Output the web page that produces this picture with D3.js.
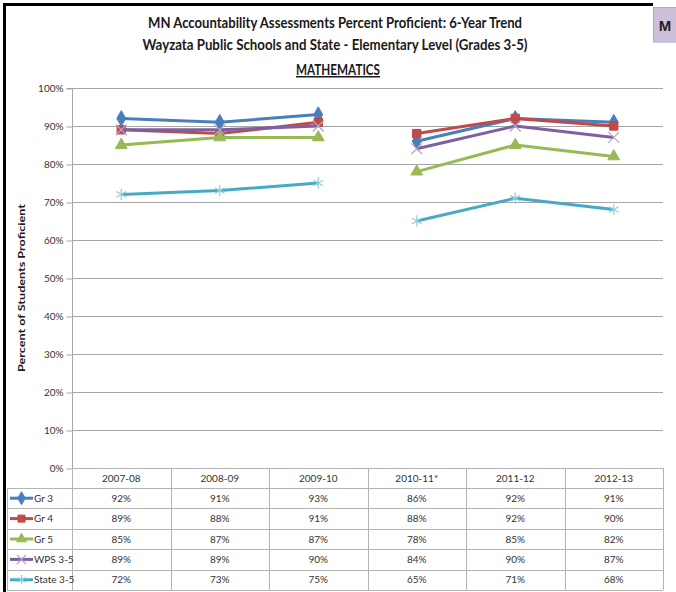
<!DOCTYPE html>
<html>
<head>
<meta charset="utf-8">
<script src="https://d3js.org/d3.v7.min.js"></script>
<style>
  html, body { margin: 0; padding: 0; background: #fff; }
  svg { display: block; }
</style>
</head>
<body>
<svg id="chart" width="676" height="592"></svg>
<script>
// ---------- data ----------
const categories = ["2007-08", "2008-09", "2009-10", "2010-11*", "2011-12", "2012-13"];
const seriesNames = ["Gr 3", "Gr 4", "Gr 5", "WPS 3-5", "State 3-5"];
const gr3   = [0.92, 0.91, 0.93, 0.86, 0.92, 0.91];
const gr4   = [0.89, 0.88, 0.91, 0.88, 0.92, 0.90];
const gr5   = [0.85, 0.87, 0.87, 0.78, 0.85, 0.82];
const wps   = [0.89, 0.89, 0.90, 0.84, 0.90, 0.87];
const state = [0.72, 0.73, 0.75, 0.65, 0.71, 0.68];
const yTicks = [0, 0.1, 0.2, 0.3, 0.4, 0.5, 0.6, 0.7, 0.8, 0.9, 1.0];
const breakBefore = "2010-11*"; // trend line is broken where the test changed
const titleLines = ["MN Accountability Assessments Percent Proficient: 6-Year Trend",
                    "Wayzata Public Schools and State - Elementary Level (Grades 3-5)"];
const subTitle = "MATHEMATICS";
const yTitle = "Percent of Students Proficient";

// ---------- styles ----------
const seriesValues = [gr3, gr4, gr5, wps, state];
const lineColors = ["#4a7ebb", "#be4b48", "#98b954", "#7d60a0", "#46aac5"];
const markerStyles = [
  {type: d3.symbolDiamond,  size: 70, fill: "#4a7ebb", stroke: "#4a7ebb", sw: 1},
  {type: d3.symbolSquare,   size: 70, fill: "#be4b48", stroke: "#be4b48", sw: 1},
  {type: d3.symbolTriangle, size: 60, fill: "#98b954", stroke: "#98b954", sw: 1},
  {type: d3.symbolX,        size: 80, fill: "none",    stroke: "#b3a2c7", sw: 1.2},
  {type: d3.symbolAsterisk, size: 90, fill: "none",    stroke: "#93cddd", sw: 1.2}
];
const font = "Lato, 'Open Sans', sans-serif";
const textColor = "#333";
const gridColor = "#a6a6a6";
const tableColor = "#b4b4b4";

const svg = d3.select("#chart");

// ---------- frame ----------
svg.append("rect").attr("x", 3).attr("y", 3).attr("width", 650).attr("height", 3).attr("fill", "#000");
svg.append("rect").attr("x", 3).attr("y", 3).attr("width", 3).attr("height", 589).attr("fill", "#000");
svg.append("rect").attr("x", 653.5).attr("y", 7.5).attr("width", 30).attr("height", 34.5)
  .attr("fill", "#ccc0da").attr("stroke", "#8eb4e3").attr("stroke-width", 1);
svg.append("text").attr("x", 665).attr("y", 31).attr("text-anchor", "middle")
  .attr("font-family", "'Liberation Sans', Arial, sans-serif").attr("font-weight", "bold")
  .attr("font-size", 15).attr("fill", "#222").text("M");

// ---------- titles ----------
const tl = [ {t: titleLines[0], y: 28, w: 374, cx: 335},
             {t: titleLines[1], y: 50, w: 385, cx: 335} ];
tl.forEach(o => {
  svg.append("text").attr("x", o.cx).attr("y", o.y).attr("text-anchor", "middle")
    .attr("font-family", font).attr("font-weight", "bold").attr("font-size", 15)
    .attr("fill", "#1a1a1a")
    .attr("textLength", o.w).attr("lengthAdjust", "spacingAndGlyphs").text(o.t);
});
svg.append("text").attr("x", 338).attr("y", 75).attr("text-anchor", "middle")
  .attr("font-family", font).attr("font-weight", "bold").attr("font-size", 15)
  .attr("fill", "#1a1a1a").attr("text-decoration", "underline")
  .attr("textLength", 84).attr("lengthAdjust", "spacingAndGlyphs").text(subTitle);

// ---------- scales ----------
const pLeft = 72, pRight = 663, pTop = 88, pBottom = 468;
const x = d3.scaleBand().domain(categories).range([pLeft, pRight]).padding(0);
const y = d3.scaleLinear().domain([0, 1]).range([pBottom, pTop]);
const cx = c => x(c) + x.bandwidth() / 2;

// gridlines
svg.append("g").selectAll("line").data(yTicks.filter(t => t > 0)).join("line")
  .attr("x1", pLeft).attr("x2", pRight)
  .attr("y1", d => Math.round(y(d)) + 0.5).attr("y2", d => Math.round(y(d)) + 0.5)
  .attr("stroke", gridColor).attr("stroke-width", 1);

// y axis
const yAxis = d3.axisLeft(y).tickValues(yTicks).tickFormat(d3.format(".0%")).tickSize(6).tickPadding(3);
const gy = svg.append("g").attr("transform", `translate(${pLeft + 0.5},0.5)`).call(yAxis);
gy.select(".domain").attr("stroke", gridColor).attr("d", `M-6,${y(1)}H0V${y(0)}`);
gy.selectAll(".tick line").attr("stroke", gridColor);
gy.selectAll(".tick text").attr("font-family", font).attr("font-size", 10).attr("fill", textColor);

svg.append("text")
  .attr("transform", `translate(25,${(pTop + pBottom) / 2 + 10}) rotate(-90)`)
  .attr("text-anchor", "middle").attr("font-family", font).attr("font-weight", "bold")
  .attr("font-size", 10).attr("fill", "#1a1a1a")
  .attr("textLength", 168).attr("lengthAdjust", "spacingAndGlyphs").text(yTitle);

// ---------- lines + markers ----------
const breakIdx = categories.indexOf(breakBefore);
seriesValues.forEach((vals, si) => {
  const pts = vals.map((v, i) => ({c: categories[i], v, i}));
  const segs = [pts.slice(0, breakIdx), pts.slice(breakIdx)];
  const line = d3.line().x(d => cx(d.c)).y(d => y(d.v));
  const g = svg.append("g");
  segs.forEach(s => {
    g.append("path").attr("d", line(s)).attr("fill", "none")
      .attr("stroke", lineColors[si]).attr("stroke-width", 3).attr("stroke-linejoin", "round");
  });
  const m = markerStyles[si];
  g.selectAll("path.mk").data(pts).join("path").attr("class", "mk")
    .attr("transform", d => `translate(${cx(d.c)},${y(d.v)})`)
    .attr("d", d3.symbol().type(m.type).size(m.size))
    .attr("fill", m.fill).attr("stroke", m.stroke).attr("stroke-width", m.sw);
});

// ---------- data table ----------
const headerTop = pBottom, headerH = 20;
const rowH = 20.4;
const tableLeft = 7;
const tableBottom = headerTop + headerH + rowH * seriesNames.length;
const tg = svg.append("g");
tg.append("line").attr("x1", pLeft).attr("x2", pRight).attr("y1", headerTop + 0.5).attr("y2", headerTop + 0.5)
  .attr("stroke", tableColor);
d3.range(seriesNames.length + 1).forEach(r => {
  const yy = Math.round(headerTop + headerH + r * rowH) + 0.5;
  tg.append("line").attr("x1", tableLeft).attr("x2", pRight).attr("y1", yy).attr("y2", yy).attr("stroke", tableColor);
});
tg.append("line").attr("x1", tableLeft + 0.5).attr("x2", tableLeft + 0.5)
  .attr("y1", headerTop + headerH).attr("y2", tableBottom).attr("stroke", tableColor);
categories.concat(["__end"]).forEach((c, i) => {
  const xx = Math.round(i < categories.length ? x(c) : pRight) + 0.5;
  tg.append("line").attr("x1", xx).attr("x2", xx).attr("y1", headerTop).attr("y2", tableBottom).attr("stroke", tableColor);
});
tg.selectAll("text.hd").data(categories).join("text").attr("class", "hd")
  .attr("x", d => cx(d)).attr("y", headerTop + headerH / 2 + 3.5).attr("text-anchor", "middle")
  .attr("font-family", font).attr("font-size", 10).attr("fill", textColor).text(d => d);
const fmt = d3.format(".0%");
seriesNames.forEach((name, si) => {
  const rc = headerTop + headerH + si * rowH + rowH / 2;
  tg.selectAll(null).data(seriesValues[si]).join("text")
    .attr("x", (d, i) => cx(categories[i])).attr("y", rc + 3.5).attr("text-anchor", "middle")
    .attr("font-family", font).attr("font-size", 10).attr("fill", textColor).text(d => fmt(d));
  tg.append("line").attr("x1", 10).attr("x2", 33).attr("y1", rc).attr("y2", rc)
    .attr("stroke", lineColors[si]).attr("stroke-width", 3);
  const m = markerStyles[si];
  tg.append("path").attr("transform", `translate(21.5,${rc})`)
    .attr("d", d3.symbol().type(m.type).size(m.size * 0.7))
    .attr("fill", m.fill).attr("stroke", m.stroke).attr("stroke-width", m.sw);
  tg.append("text").attr("x", 34).attr("y", rc + 3.5)
    .attr("font-family", font).attr("font-size", 10).attr("fill", textColor).text(name);
});
</script>
</body>
</html>
